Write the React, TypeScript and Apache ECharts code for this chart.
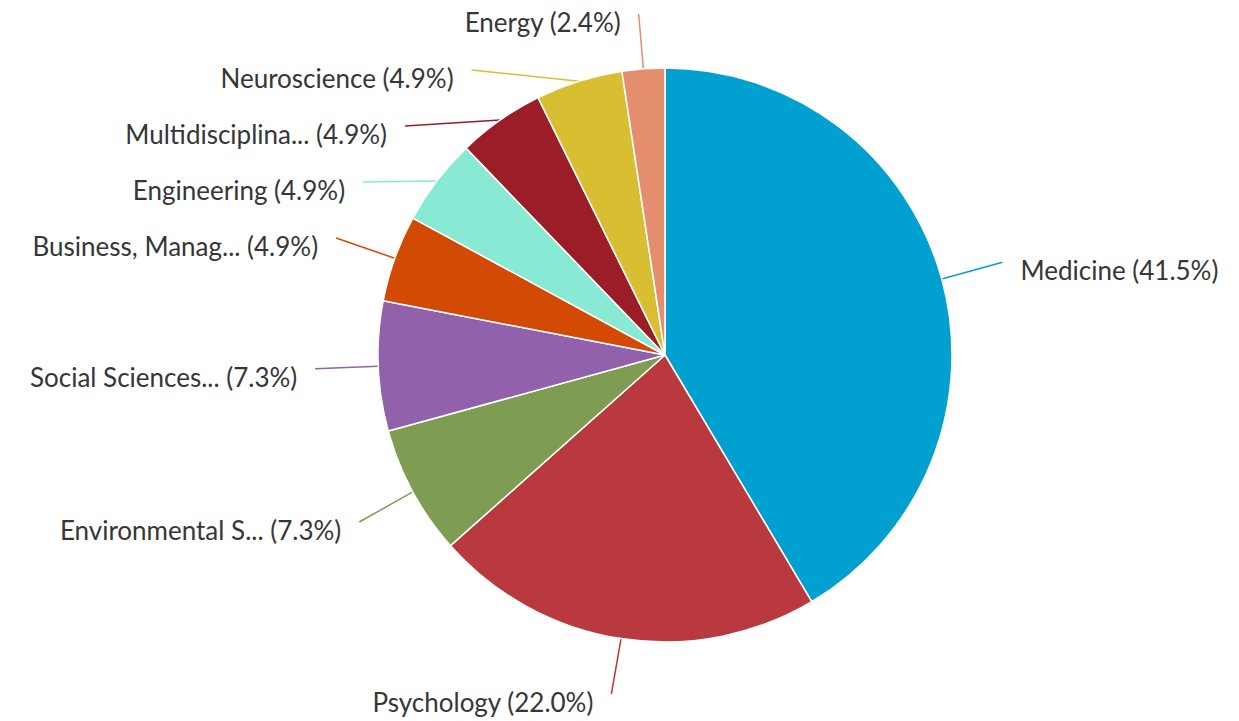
import React, { useEffect, useRef } from "react";
import * as echarts from "echarts";

const categories = [
  "Medicine",
  "Psychology",
  "Environmental S...",
  "Social Sciences...",
  "Business, Manag...",
  "Engineering",
  "Multidisciplina...",
  "Neuroscience",
  "Energy",
];
const shares = [41.5, 22.0, 7.3, 7.3, 4.9, 4.9, 4.9, 4.9, 2.4];
const colors = [
  "#00a0d0",
  "#b9393f",
  "#7e9d53",
  "#9161ac",
  "#d24a04",
  "#88e9d5",
  "#9a1d28",
  "#d8bf31",
  "#e48e6e",
];

// layout settings (not data)
const CX = 665;
const CY = 355;
const R = 287;
const LABEL_R = 350; // radius where connectors end
const SLOT = 56; // minimum vertical distance between labels on a side
const TOP = 14;
const BOTTOM = 694;
const GAP = 18; // connector end to text
const TEXT_DY = 8; // text sits a bit below the connector end

type LabelPos = { edge: number[]; end: number[]; left: boolean };

function computeLabelLayout(): LabelPos[] {
  const total = shares.reduce((a, b) => a + b, 0);
  let acc = 0;
  const items = shares.map((v, i) => {
    const mid = ((acc + v / 2) / total) * Math.PI * 2;
    acc += v;
    const s = Math.sin(mid);
    const c = Math.cos(mid);
    return {
      i,
      left: s < 0,
      edge: [CX + R * s, CY - R * c],
      natX: LABEL_R * s,
      y: CY - LABEL_R * c,
      x: CX + LABEL_R * s,
    };
  });
  const out: LabelPos[] = new Array(items.length);
  for (const left of [true, false]) {
    const side = items.filter((it) => it.left === left).sort((a, b) => a.y - b.y);
    for (let k = 0; k < side.length; k++) {
      const minY = k === 0 ? TOP : side[k - 1].y + SLOT;
      if (side[k].y < minY) side[k].y = minY;
    }
    for (let k = side.length - 1; k >= 0; k--) {
      const maxY = k === side.length - 1 ? BOTTOM : side[k + 1].y - SLOT;
      if (side[k].y > maxY) side[k].y = maxY;
    }
    if (side.length > 1) {
      for (const upper of [true, false]) {
        const semi = side.filter((it) => (it.y < CY) === upper);
        if (!semi.length) continue;
        let ext = semi[0];
        for (const it of semi) if (Math.abs(it.y - CY) >= Math.abs(ext.y - CY)) ext = it;
        const dyE = Math.abs(ext.y - CY);
        const rB = Math.abs(ext.natX) < LABEL_R
          ? Math.sqrt((dyE * dyE) / (1 - (ext.natX * ext.natX) / (LABEL_R * LABEL_R)))
          : LABEL_R;
        for (const it of semi) {
          const dy = Math.abs(it.y - CY);
          const dx = Math.sqrt(Math.max(0, 1 - (dy * dy) / (rB * rB))) * LABEL_R;
          it.x = CX + (left ? -dx : dx);
        }
      }
    }
    for (const it of side) out[it.i] = { edge: it.edge, end: [it.x, it.y], left };
  }
  return out;
}

export default function App() {
  const ref = useRef<HTMLDivElement>(null);
  useEffect(() => {
    document.body.style.margin = "0";
    document.body.style.overflow = "hidden";
    const layout = computeLabelLayout();
    const chart = echarts.init(ref.current!, null, { renderer: "svg" });
    chart.setOption({
      animation: false,
      backgroundColor: "#ffffff",
      series: [
        {
          type: "pie",
          center: [CX, CY],
          radius: [0, R],
          startAngle: 90,
          clockwise: true,
          avoidLabelOverlap: false,
          itemStyle: { borderColor: "#ffffff", borderWidth: 1.5 },
          label: {
            show: true,
            formatter: (p: any) => `${p.name} (${Number(p.value).toFixed(1)}%)`,
            fontFamily: "Lato",
            fontSize: 26,
            color: "#363636",
          },
          labelLine: {
            show: true,
            length: 60,
            length2: 1,
            lineStyle: { width: 1.5 },
          },
          labelLayout: (params: any) => {
            const L = layout[params.dataIndex];
            if (!L) return {};
            return {
              x: L.end[0] + (L.left ? -GAP : GAP),
              y: L.end[1] + TEXT_DY,
              align: L.left ? "right" : "left",
              verticalAlign: "middle",
              labelLinePoints: [L.edge, L.end, L.end],
            };
          },
          emphasis: { disabled: true },
          data: categories.map((name, i) => ({
            name,
            value: shares[i],
            itemStyle: { color: colors[i] },
          })),
        },
      ],
    });
    return () => chart.dispose();
  }, []);
  return <div ref={ref} style={{ width: 1239, height: 721 }} />;
}
